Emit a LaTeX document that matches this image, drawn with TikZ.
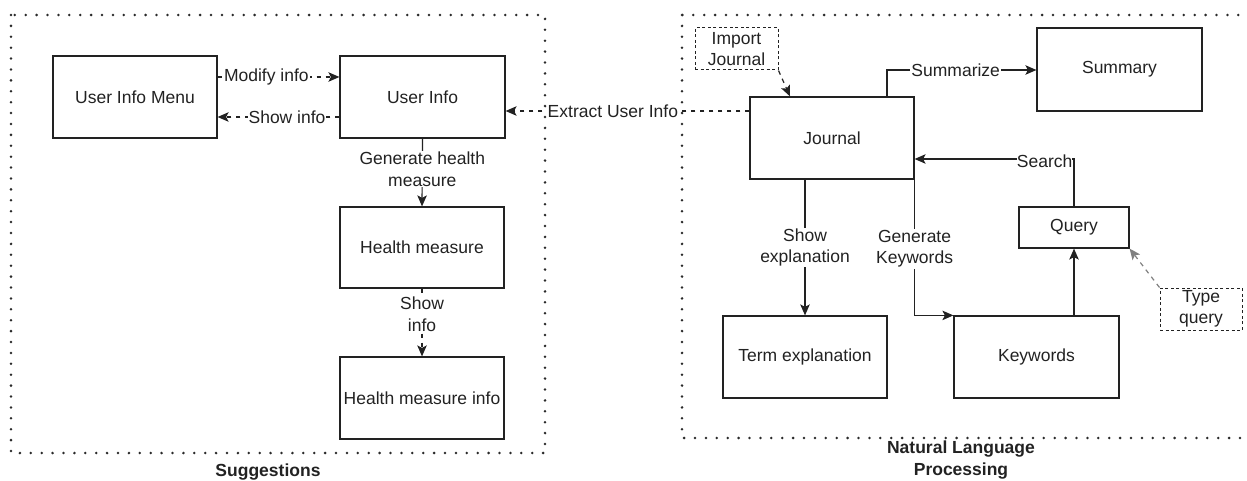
\documentclass[tikz,border=0pt]{standalone}
\usepackage{fontspec}
\setmainfont{Liberation Sans}
\usetikzlibrary{arrows.meta,calc}
\definecolor{ink}{HTML}{222222}
\definecolor{dotc}{HTML}{2a2a2a}
\tikzset{
  every node/.style={font=\fontsize{17.5}{21.5}\selectfont, text=ink},
  box/.style={draw=ink, line width=1.2pt, inner sep=0pt, align=center},
  note/.style={draw=ink, line width=1pt, dash pattern=on 3pt off 2.5pt, inner sep=0pt, align=center},
  group/.style={draw=dotc, line width=2.8pt, line cap=round, dash pattern=on 0pt off 10.9pt},
  conn/.style={draw=ink, line width=1.2pt, -{Stealth[length=11pt,width=9.5pt,inset=2.5pt]}},
  dconn/.style={conn, dash pattern=on 4.5pt off 4.5pt},
  lbl/.style={fill=white, inner sep=1pt, align=center},
  title/.style={font=\bfseries\fontsize{17.5}{21.5}\selectfont, align=center}
}
\begin{document}
\begin{tikzpicture}[x=1pt, y=-1pt]
\useasboundingbox (0,0) rectangle (1247,481);

% group frames
\draw[group] (11,15) rectangle (545,453);
\draw[group] (682,15) rectangle (1262,438);
\node[title] (sugg) at (268,472) {Suggestions};
\node[title] (nlp) at (961,460) {Natural Language\\Processing};

% suggestions side
\node[box, minimum width=164pt, minimum height=82pt] (uim) at (135,97) {User Info Menu};
\node[box, minimum width=165pt, minimum height=82pt] (ui) at (422.5,97) {User Info};
\node[box, minimum width=164pt, minimum height=81pt] (hm) at (422,247.5) {Health measure};
\node[box, minimum width=164pt, minimum height=82pt] (hmi) at (422,398) {Health measure info};

% language processing side
\node[box, minimum width=164pt, minimum height=82pt] (jr) at (832,138) {Journal};
\node[box, minimum width=165pt, minimum height=83pt] (sum) at (1119.5,69.5) {Summary};
\node[box, minimum width=110pt, minimum height=41pt] (qry) at (1074,227.5) {Query};
\node[box, minimum width=164pt, minimum height=82pt] (term) at (805,357) {Term explanation};
\node[box, minimum width=165pt, minimum height=82pt] (kw) at (1036.5,357) {Keywords};
\node[note, minimum width=83pt, minimum height=42pt] (imp) at (736.5,49) {Import\\Journal};
\node[note, minimum width=82pt, minimum height=42pt] (typ) at (1201,309) {Type\\query};

% connectors: suggestions
\draw[dconn] ([yshift=20pt]uim.east) -- node[lbl, pos=0.4] {Modify info} ([yshift=20pt]ui.west);
\draw[dconn] ([yshift=-20pt]ui.west) -- node[lbl, pos=0.43] {Show info} ([yshift=-20pt]uim.east);
\draw[conn] (ui.south) -- node[lbl, pos=0.45] {Generate health\\measure} (hm.north);
\draw[dconn] (hm.south) -- node[lbl, pos=0.38] {Show\\info} (hmi.north);

% connectors: between the groups
\draw[dconn] ([yshift=27pt]jr.west) -- node[lbl, pos=0.56] {Extract User Info} ([yshift=-14pt]ui.east);

% connectors: language processing
\draw[dconn] (imp.south east) -- ([xshift=-42pt]jr.north);
\draw[conn] ([xshift=55pt]jr.north) |- node[lbl, pos=0.73] {Summarize} ([yshift=-0.5pt]sum.west);
\draw[conn] (qry.north) |- node[lbl, pos=0.5, anchor=east, inner sep=0pt, yshift=-2pt, xshift=-1pt] {Search} ([yshift=-21pt]jr.east);
\draw[conn] (jr.south -| term.north) -- node[lbl] {Show\\explanation} (term.north);
\draw[conn] (jr.south east) |- node[lbl, pos=0.255] {Generate\\Keywords} (kw.north west);
\draw[conn] (kw.north -| qry.south) -- (qry.south);
\draw[dconn, draw=gray] (typ.north west) -- (qry.south east);
\end{tikzpicture}
\end{document}
